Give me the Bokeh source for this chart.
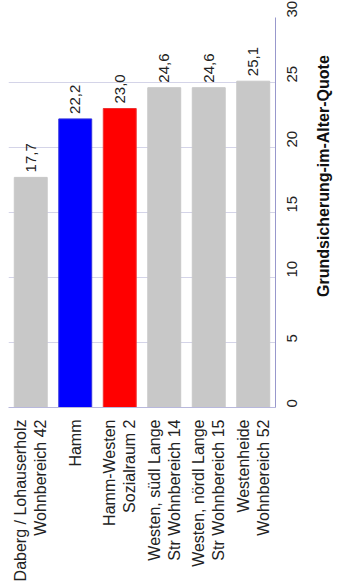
import math
from bokeh.plotting import figure
from bokeh.models import ColumnDataSource, FixedTicker, LinearAxis
from bokeh.core.properties import value
from bokeh.embed import file_html
from bokeh.resources import INLINE

categories = [
    "Daberg / Lohauserholz\nWohnbereich 42",
    "Hamm",
    "Hamm-Westen\nSozialraum 2",
    "Westen, südl Lange\nStr Wohnbereich 14",
    "Westen, nördl Lange\nStr Wohnbereich 15",
    "Westenheide\nWohnbereich 52",
]
values = [17.7, 22.2, 23.0, 24.6, 24.6, 25.1]
labels = ["17,7", "22,2", "23,0", "24,6", "24,6", "25,1"]
colors = ["#C8C8C8", "#0000FF", "#FF0000", "#C8C8C8", "#C8C8C8", "#C8C8C8"]
outline = ["#C8C8C8", "#3333DD", "#EE3333", "#C8C8C8", "#C8C8C8", "#C8C8C8"]
y_ticks = [0, 5, 10, 15, 20, 25, 30]
axis_title = "Grundsicherung-im-Alter-Quote"
title_pos = 8.5  # value level at which the original centres its axis title

FONT = "Liberation Sans"

src = ColumnDataSource(dict(cat=categories, val=values, lab=labels,
                            col=colors, oc=outline))

p = figure(x_range=categories, y_range=(0, 30),
           frame_width=267, frame_height=390,
           output_backend="svg", toolbar_location=None,
           y_axis_location="right",
           min_border_left=8, min_border_top=17, min_border_right=61,
           min_border_bottom=178)
p.outline_line_color = None
p.background_fill_color = "white"

p.vbar(x="cat", top="val", width=0.74, source=src, fill_color="col",
       line_color="oc", line_width=1)

p.text(x="cat", y="val", text="lab", source=src, angle=math.pi / 2,
       text_align="left", text_baseline="middle", y_offset=-5,
       text_font=value(FONT), text_font_size="15px", text_color="#222222")

# x axis (categories)
xa = p.xaxis[0]
xa.major_label_orientation = math.pi / 2
xa.major_label_text_font = FONT
xa.major_label_text_font_size = "16px"
xa.major_label_text_color = "#222222"
xa.major_tick_line_color = None
xa.major_label_standoff = 6
xa.axis_line_color = "#B8B8DC"
p.xgrid.grid_line_color = None

# y axis (values, right side)
ya = p.yaxis[0]
ya.ticker = FixedTicker(ticks=y_ticks)
ya.major_label_orientation = math.pi / 2
ya.major_label_text_font = FONT
ya.major_label_text_font_size = "15px"
ya.major_label_text_color = "#222222"
ya.major_tick_line_color = None
ya.minor_tick_line_color = None
ya.major_label_standoff = 10
ya.axis_line_color = "#9898CC"
p.ygrid.grid_line_color = "#D4D4E8"

# outer right axis that only carries the axis title, placed off-centre
ta = LinearAxis(ticker=FixedTicker(ticks=[title_pos]),
                major_label_overrides={title_pos: axis_title})
ta.axis_line_color = None
ta.major_tick_line_color = None
ta.minor_tick_line_color = None
ta.major_label_orientation = math.pi / 2
ta.major_label_standoff = 13
ta.major_label_text_font = FONT
ta.major_label_text_font_size = "16px"
ta.major_label_text_font_style = "bold"
ta.major_label_text_color = "#111111"
p.add_layout(ta, "right")

open("out.html", "w").write(file_html(p, INLINE))
